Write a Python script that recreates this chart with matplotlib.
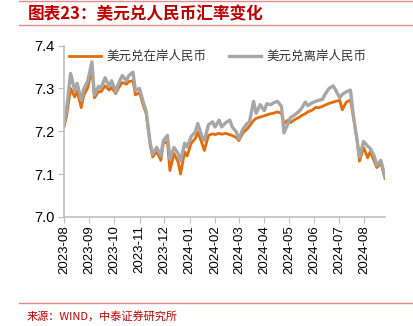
import matplotlib
matplotlib.use("Agg")
import matplotlib.pyplot as plt
import matplotlib.dates as mdates
from matplotlib.lines import Line2D
import pandas as pd

# USD/CNY onshore and offshore, sampled every 3 business days
onshore = [
    7.210, 7.235, 7.300, 7.280, 7.293, 7.255, 7.284, 7.302,
    7.347, 7.278, 7.293, 7.292, 7.306, 7.296, 7.302,
    7.288, 7.300, 7.314, 7.310, 7.316, 7.318, 7.285,
    7.290, 7.258, 7.242, 7.168, 7.140, 7.152, 7.132, 7.172,
    7.175, 7.108, 7.148, 7.128, 7.100, 7.152, 7.142,
    7.172, 7.183, 7.198, 7.172, 7.155, 7.190, 7.194,
    7.192, 7.195, 7.193, 7.195, 7.192, 7.190, 7.185,
    7.178, 7.196, 7.205, 7.212, 7.225, 7.230, 7.233,
    7.236, 7.238, 7.241, 7.242, 7.245, 7.242, 7.218, 7.226,
    7.220, 7.227, 7.232, 7.236, 7.241, 7.245, 7.249,
    7.256, 7.255, 7.258, 7.261, 7.265, 7.268, 7.270,
    7.272, 7.250, 7.268, 7.273, 7.240, 7.180, 7.130, 7.162,
    7.138, 7.152, 7.130, 7.115, 7.126, 7.090,
]
offshore = [
    7.218, 7.250, 7.335, 7.295, 7.312, 7.272, 7.298, 7.318,
    7.362, 7.285, 7.305, 7.300, 7.325, 7.305, 7.318,
    7.292, 7.310, 7.330, 7.318, 7.330, 7.338, 7.295,
    7.300, 7.265, 7.248, 7.172, 7.146, 7.162, 7.142, 7.178,
    7.190, 7.135, 7.162, 7.148, 7.130, 7.172, 7.163,
    7.188, 7.198, 7.218, 7.188, 7.178, 7.215, 7.222,
    7.210, 7.226, 7.210, 7.220, 7.226, 7.210, 7.198,
    7.182, 7.205, 7.218, 7.222, 7.270, 7.242, 7.262,
    7.248, 7.264, 7.262, 7.266, 7.270, 7.258, 7.196, 7.218,
    7.232, 7.238, 7.246, 7.252, 7.268, 7.260, 7.266,
    7.270, 7.272, 7.275, 7.286, 7.300, 7.306, 7.296,
    7.278, 7.286, 7.292, 7.296, 7.245, 7.180, 7.140, 7.176,
    7.165, 7.160, 7.142, 7.120, 7.132, 7.095,
]
dates = pd.bdate_range("2023-08-01", periods=len(onshore), freq="3B")

labels = ["美元兑在岸人民币", "美元兑离岸人民币"]
yticks = [7.0, 7.1, 7.2, 7.3, 7.4]

plt.rcParams["font.family"] = ["Liberation Sans", "Noto Sans CJK SC"]

fig = plt.figure(figsize=(4.13, 3.26), dpi=100)
ax = fig.add_axes([0.155, 0.335, 0.777, 0.525])

ax.plot(dates, onshore, color="#E36C09", lw=2.0, label=labels[0])
ax.plot(dates, offshore, color="#A6A6A6", lw=2.4, label=labels[1])

ax.set_ylim(7.0, 7.4)
ax.set_yticks(yticks)
ax.yaxis.set_major_formatter(matplotlib.ticker.FormatStrFormatter("%.1f"))
ax.set_xlim(dates[0], dates[-1])
ax.xaxis.set_major_locator(mdates.MonthLocator())
ax.xaxis.set_major_formatter(mdates.DateFormatter("%Y-%m"))
ax.tick_params(axis="x", rotation=90, labelsize=9.5, length=4, color="#BFBFBF", pad=2)
ax.tick_params(axis="y", labelsize=10.5, length=4, color="#BFBFBF", pad=3)

for s in ["top", "right"]:
    ax.spines[s].set_visible(False)
for s in ["left", "bottom"]:
    ax.spines[s].set_color("#BFBFBF")
    ax.spines[s].set_linewidth(1.2)

leg = ax.legend(loc="upper left", bbox_to_anchor=(-0.02, 1.04), ncol=2, frameon=False,
                fontsize=9, handlelength=2.6, columnspacing=1.8, handletextpad=0.4)
for t in leg.get_texts():
    t.set_family(["Noto Sans CJK SC"])
    t.set_color("#333333")

red = "#C00000"
pink = "#E38A8A"
fig.add_artist(Line2D([0.045, 1.0], [0.997, 0.997], color=pink, lw=1.0))
fig.add_artist(Line2D([0.045, 1.0], [0.923, 0.923], color=pink, lw=1.0))
fig.add_artist(Line2D([0.045, 1.0], [0.072, 0.072], color=pink, lw=1.0))

fig.text(0.068, 0.958, "图表23：美元兑人民币汇率变化", color=red, fontsize=12,
         fontweight="bold", va="center", ha="left", family=["Noto Sans CJK SC"])
fig.text(0.065, 0.030, "来源：WIND，中泰证券研究所", color=red, fontsize=8,
         va="center", ha="left", family=["Noto Sans CJK SC"])

fig.savefig("out.png", dpi=100)
